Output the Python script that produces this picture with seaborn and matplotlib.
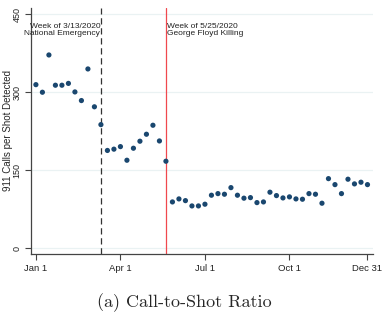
import matplotlib
matplotlib.use("Agg")
import matplotlib.pyplot as plt
import seaborn as sns
import pandas as pd

weeks = list(range(1, 53))
ratio = [314.6, 300.0, 371.7, 313.5, 313.5, 317.0, 300.6, 284.0, 344.8, 272.0,
         237.7, 188.0, 190.5, 195.4, 169.2, 192.3, 205.8, 219.2, 236.5, 206.3,
         167.3, 89.0, 94.8, 91.5, 81.3, 81.3, 84.6, 101.9, 105.0, 103.8,
         116.5, 101.9, 96.2, 97.3, 87.7, 89.0, 107.7, 101.2, 96.7, 98.7,
         94.8, 94.2, 105.0, 103.8, 86.5, 133.8, 122.3, 105.0, 132.7, 123.7,
         126.9, 122.3]
xtick_pos = [1, 14, 27, 40, 52]
xtick_labels = ["Jan 1", "Apr 1", "Jul 1", "Oct 1", "Dec 31"]
ytick_pos = [0, 150, 300, 450]
emergency_week = 11
floyd_week = 21

df = pd.DataFrame({"week": weeks, "ratio": ratio})

sns.set_theme(style="white")
plt.rcParams['font.family'] = ['Liberation Sans', 'DejaVu Sans']

fig = plt.figure(figsize=(3.87, 3.21), dpi=100)
ax = fig.add_axes([0.079, 0.209, 0.884, 0.766])

for y in ytick_pos:
    ax.axhline(y, color="#eaf2f3", lw=0.9, zorder=0)

sns.scatterplot(data=df, x="week", y="ratio", ax=ax, color="#1a476f",
                s=14, edgecolor="none", zorder=3, legend=False)

ax.axvline(emergency_week, color="#333333", lw=0.9, ls=(0, (5, 3)), zorder=2)
ax.axvline(floyd_week, color="#f0484e", lw=0.9, zorder=2)

ax.text(emergency_week - 0.1, 433, "Week of 3/13/2020\nNational Emergency",
        ha="right", va="top", fontsize=6, color="#222222", linespacing=1.0)
ax.text(floyd_week + 0.15, 433, "Week of 5/25/2020\nGeorge Floyd Killing",
        ha="left", va="top", fontsize=6, color="#222222", linespacing=1.0)

ax.set_xlim(0.18, 52.8)
ax.set_ylim(-11, 462)
ax.set_xticks(xtick_pos)
ax.set_xticklabels(xtick_labels, fontsize=6.8)
ax.set_yticks(ytick_pos)
ax.set_yticklabels([str(v) for v in ytick_pos], fontsize=6.5, rotation=90, va="center")
ax.set_xlabel("")
ax.set_ylabel("911 Calls per Shot Detected", fontsize=7)
ax.yaxis.set_label_coords(-0.052, 0.5)

for s in ["top", "right"]:
    ax.spines[s].set_visible(False)
for s in ["left", "bottom"]:
    ax.spines[s].set_color("#444444")
    ax.spines[s].set_linewidth(0.9)
ax.tick_params(axis="x", which="major", length=4.5, width=0.8, color="#444444",
               bottom=True, pad=3, labelcolor="#222222")
ax.tick_params(axis="y", which="major", length=4.5, width=0.8, color="#444444",
               left=True, pad=2, labelcolor="#222222")

fig.text(0.477, 0.056, "(a) Call-to-Shot Ratio", ha="center", va="center",
         fontsize=13, family="cmr10")

fig.savefig("out.png", dpi=100)
